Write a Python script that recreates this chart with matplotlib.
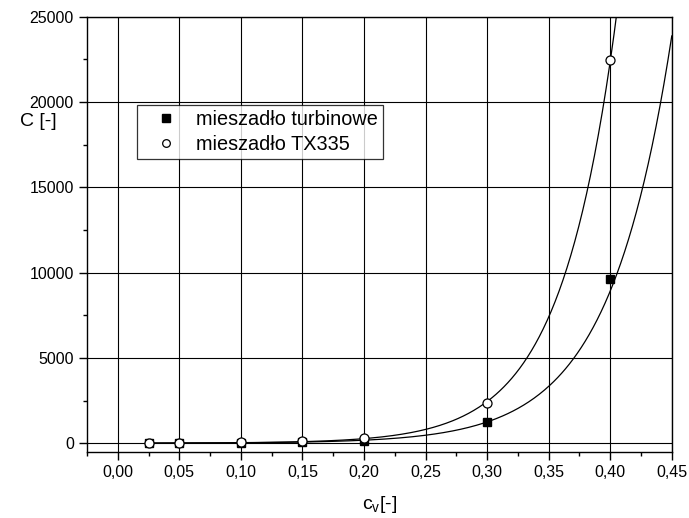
import numpy as np
import matplotlib.pyplot as plt
from matplotlib.ticker import MultipleLocator, FuncFormatter

plt.rcParams['font.family'] = ['Liberation Sans', 'DejaVu Sans']

# punkty pomiarowe
cv = [0.025, 0.05, 0.10, 0.15, 0.20, 0.30, 0.40]
c_turb = [5, 10, 20, 40, 110, 1230, 9630]
c_tx = [5, 15, 60, 100, 330, 2360, 22470]

fit_x_turb = [0.30, 0.35, 0.40, 0.45]
fit_y_turb = [1230, 3360, 9060, 23540]
fit_x_tx = [0.30, 0.35, 0.40]
fit_y_tx = [2450, 7330, 22470]

labels = ["mieszadło turbinowe", "mieszadło TX335"]


def exp_curve(x, y):
    # y = A*exp(b*x), dopasowanie w skali log
    b, lnA = np.polyfit(np.asarray(x, float), np.log(np.asarray(y, float)), 1)
    return lambda xx: np.exp(lnA + b * xx)


fig = plt.figure(figsize=(6.89, 5.18), dpi=100)
ax = fig.add_axes([0.1263, 0.128, 0.8487, 0.8400])

xx = np.linspace(0.025, 0.45, 400)
for fx, fy in ((fit_x_turb, fit_y_turb), (fit_x_tx, fit_y_tx)):
    f = exp_curve(fx, fy)
    ax.plot(xx, f(xx), color="black", lw=0.9, zorder=3)

ax.plot(cv, c_turb, ls="none", marker="s", ms=6, mfc="black", mec="black",
        label=labels[0], zorder=4)
ax.plot(cv, c_tx, ls="none", marker="o", ms=6.5, mfc="white", mec="black",
        mew=0.9, label=labels[1], zorder=5)

ax.set_xlim(-0.025, 0.45)
ax.set_ylim(-500, 25000)

ax.xaxis.set_major_locator(MultipleLocator(0.05))
ax.xaxis.set_minor_locator(MultipleLocator(0.025))
ax.yaxis.set_major_locator(MultipleLocator(5000))
ax.yaxis.set_minor_locator(MultipleLocator(2500))
ax.xaxis.set_major_formatter(FuncFormatter(lambda v, p: f"{v:.2f}".replace(".", ",")))
ax.yaxis.set_major_formatter(FuncFormatter(lambda v, p: f"{v:.0f}"))

ax.tick_params(axis="both", which="major", direction="out", length=6,
               width=1, labelsize=11.5)
ax.tick_params(axis="both", which="minor", direction="out", length=3, width=1)
ax.grid(True, which="major", color="black", lw=0.8)
ax.set_axisbelow(True)
for s in ax.spines.values():
    s.set_linewidth(1)

ax.set_xlabel("c$_\\mathregular{v}$[-]", fontsize=14, labelpad=10)
fig.text(0.029, 0.7645, "C [-]", fontsize=14, va="center", ha="left")

leg = ax.legend(loc="upper left", bbox_to_anchor=(0.0855, 0.797), fontsize=14.3,
                frameon=True, fancybox=False, edgecolor="black",
                borderpad=0.25, labelspacing=0.3, handletextpad=0.33,
                handlelength=2.4, borderaxespad=0, markerscale=0.85)
leg.get_frame().set_linewidth(0.9)
leg.set_zorder(6)

fig.savefig("out.png", dpi=100)
